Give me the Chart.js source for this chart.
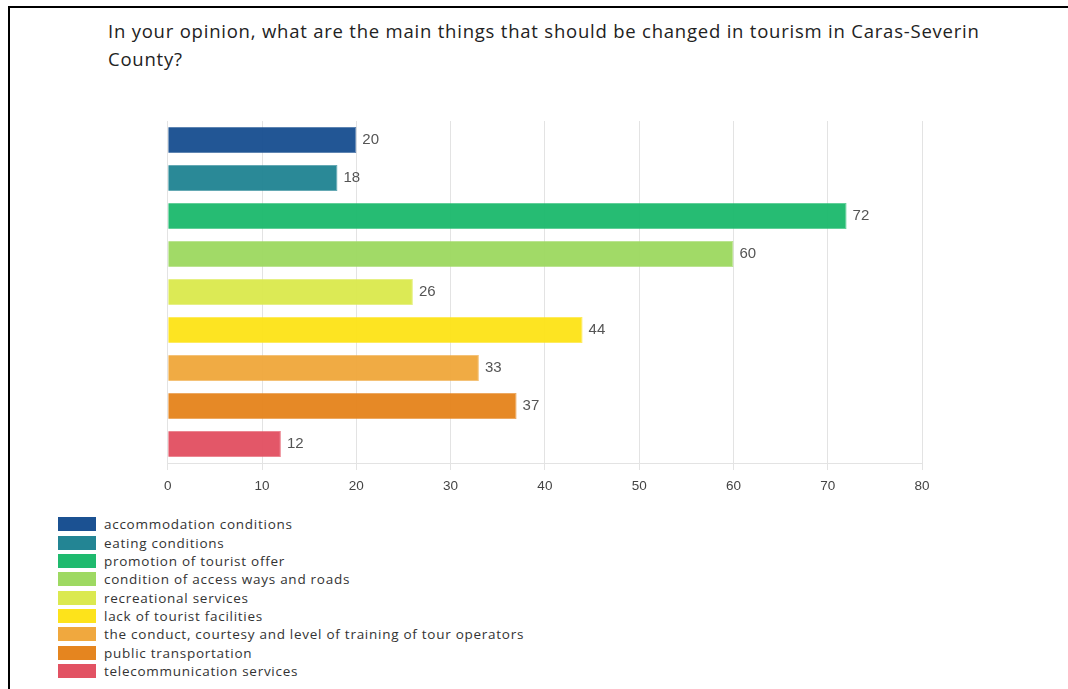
<!DOCTYPE html>
<html>
<head>
<meta charset="utf-8">
<script src="https://cdn.jsdelivr.net/npm/chart.js@4.4.1/dist/chart.umd.min.js"></script>
<style>
  html, body { margin: 0; padding: 0; background: #fff; }
  body { width: 1068px; height: 689px; position: relative; overflow: hidden; }
  .frame {
    position: absolute; left: 8px; top: 6px; width: 1100px; height: 720px;
    border-top: 2px solid #000; border-left: 2px solid #000;
  }
  .title {
    position: absolute; left: 108px; top: 17px;
    font-family: "Open Sans", "Noto Sans", sans-serif; font-size: 18.5px;
    line-height: 28px; color: #222; letter-spacing: 0.78px; white-space: nowrap;
  }
  #chartWrap { position: absolute; left: 156px; top: 110px; width: 800px; height: 400px; }
  #legend {
    position: absolute; left: 58px; top: 515px;
    font-family: "Open Sans", "Noto Sans", sans-serif; font-size: 13.5px; color: #333;
    letter-spacing: 0.73px; white-space: nowrap;
  }
  #legend .row { height: 18.35px; display: flex; align-items: center; }
  #legend .sw { width: 38px; height: 14px; margin-right: 8px; }
</style>
</head>
<body>
<div class="frame"></div>
<div class="title">In your opinion, what are the main things that should be changed in tourism in Caras-Severin<br>County?</div>
<div id="chartWrap"><canvas id="changesChart"></canvas></div>
<div id="legend"></div>

<script>
const categories = [
    'accommodation conditions',
    'eating conditions',
    'promotion of tourist offer',
    'condition of access ways and roads',
    'recreational services',
    'lack of tourist facilities',
    'the conduct, courtesy and level of training of tour operators',
    'public transportation',
    'telecommunication services'
];
const answers = [20, 18, 72, 60, 26, 44, 33, 37, 12];
const barColors = ['#1b5192', '#238594', '#1fba6e', '#9ed962', '#dbe950', '#fde31b', '#f0a83e', '#e5851f', '#e25263'];
const xTicks = [0, 10, 20, 30, 40, 50, 60, 70, 80];

function withAlpha(hex, a) {
    const n = parseInt(hex.slice(1), 16);
    return 'rgba(' + (n >> 16) + ',' + ((n >> 8) & 255) + ',' + (n & 255) + ',' + a + ')';
}

// value printed just right of each bar end
const valueLabels = {
    id: 'valueLabels',
    afterDatasetsDraw(chart) {
        const ctx = chart.ctx;
        const meta = chart.getDatasetMeta(0);
        ctx.save();
        ctx.font = '15px "Liberation Sans Narrow", "Liberation Sans", sans-serif';
        ctx.fillStyle = '#555';
        ctx.textBaseline = 'middle';
        meta.data.forEach((bar, i) => {
            ctx.fillText(String(chart.data.datasets[0].data[i]), bar.x + 6, bar.y);
        });
        ctx.restore();
    }
};

const ctx = document.getElementById('changesChart');
new Chart(ctx, {
    type: 'bar',
    data: {
        labels: categories,
        datasets: [{
            data: answers,
            backgroundColor: barColors.map(c => withAlpha(c, 0.97)),
            borderColor: barColors.map(c => withAlpha(c, 0.7)),
            borderWidth: 1,
            categoryPercentage: 1,
            barPercentage: 0.69
        }]
    },
    options: {
        indexAxis: 'y',
        responsive: true,
        maintainAspectRatio: false,
        animation: false,
        layout: { padding: { left: 8, right: 34, top: 11, bottom: 0 } },
        plugins: {
            legend: { display: false },
            tooltip: { enabled: false }
        },
        scales: {
            x: {
                min: 0,
                max: 80,
                afterBuildTicks(scale) { scale.ticks = xTicks.map(v => ({ value: v })); },
                afterFit(scale) { scale.height = 47; },
                grid: { color: '#e3e3e3', tickLength: 7, lineWidth: 1 },
                border: { color: '#e3e3e3' },
                ticks: {
                    color: '#444',
                    padding: 8,
                    font: { family: '"Liberation Sans Narrow", "Liberation Sans", sans-serif', size: 13.5 }
                }
            },
            y: {
                display: false
            }
        }
    },
    plugins: [valueLabels]
});

// legend list, one row per category
const legend = document.getElementById('legend');
categories.forEach((name, i) => {
    const row = document.createElement('div');
    row.className = 'row';
    const sw = document.createElement('span');
    sw.className = 'sw';
    sw.style.background = barColors[i];
    const txt = document.createElement('span');
    txt.textContent = name;
    row.appendChild(sw);
    row.appendChild(txt);
    legend.appendChild(row);
});
</script>
</body>
</html>
